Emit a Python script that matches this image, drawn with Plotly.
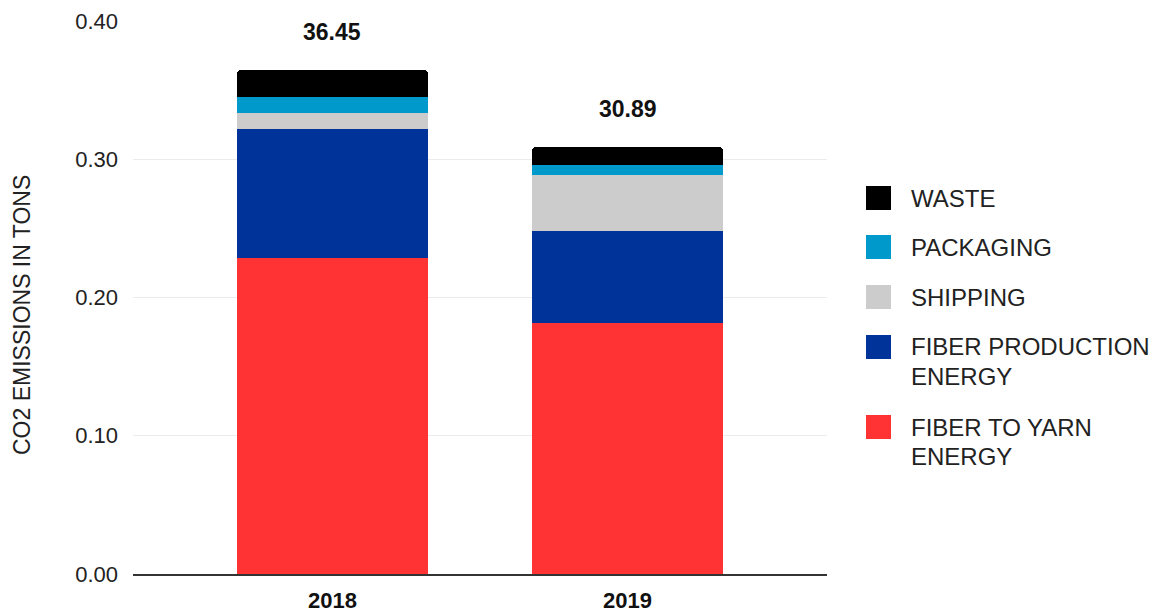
import plotly.graph_objects as go

# Stacked CO2 emissions per year (tons)
years = ["2018", "2019"]
fiber_to_yarn = [0.2284, 0.1814]
fiber_production = [0.0932, 0.0665]
shipping = [0.0116, 0.0404]
packaging = [0.0115, 0.0073]
waste = [0.0198, 0.0133]

series_names = ["FIBER TO YARN<br>ENERGY", "FIBER PRODUCTION<br>ENERGY", "SHIPPING", "PACKAGING", "WASTE"]
series_values = [fiber_to_yarn, fiber_production, shipping, packaging, waste]
series_colors = ["#ff3333", "#003399", "#cccccc", "#0099cc", "#000000"]

FONT = "Liberation Sans, Arial, sans-serif"
W, H = 1164, 614
ML, MR, MT, MB = 133, 337, 21, 40
PW, PH = W - ML - MR, H - MT - MB


def px_x(x):
    return (x - ML) / PW


def px_y(y):
    return (H - MB - y) / PH


fig = go.Figure()
for name, vals, color in zip(series_names, series_values, series_colors):
    fig.add_trace(go.Bar(
        x=[0, 1], y=vals, name=name, marker=dict(color=color, line=dict(width=0)),
        width=0.647, showlegend=False, hoverinfo="skip",
    ))

totals = [sum(v[i] for v in series_values) for i in range(len(years))]
annotations = []
for i, t in enumerate(totals):
    annotations.append(dict(
        x=i, y=t, xref="x", yref="y", text=f"<b>{t * 100:.2f}</b>", showarrow=False,
        yanchor="middle", yshift=38, font=dict(family=FONT, size=23, color="#111111"),
    ))

# Axis title
annotations.append(dict(
    x=px_x(22), y=px_y(315), xref="paper", yref="paper", text="CO2 EMISSIONS IN TONS",
    textangle=-90, showarrow=False, xanchor="center", yanchor="middle",
    font=dict(family=FONT, size=23, color="#222222"),
))

# Legend drawn by hand: top entry first
shapes = []
legend_tops = [186, 235, 285, 335, 415]
for (name, color), top in zip(list(zip(series_names, series_colors))[::-1], legend_tops):
    shapes.append(dict(
        type="rect", xref="paper", yref="paper",
        x0=px_x(866), x1=px_x(891), y0=px_y(top + 24), y1=px_y(top),
        fillcolor=color, line=dict(width=0), layer="above",
    ))
    for k, line in enumerate(name.split("<br>")):
        annotations.append(dict(
            x=px_x(909), y=px_y(top + 12 + 29.5 * k), xref="paper", yref="paper",
            text=line, showarrow=False, xanchor="left", yanchor="middle",
            font=dict(family=FONT, size=24, color="#222222"),
        ))

fig.update_layout(
    width=W, height=H, barmode="stack", barcornerradius=4,
    margin=dict(l=ML, r=MR, t=MT, b=MB),
    paper_bgcolor="white", plot_bgcolor="white",
    font=dict(family=FONT, color="#111111"),
    xaxis=dict(
        range=[-0.676, 1.676], tickvals=[0, 1], ticktext=[f"<b>{y}</b>" for y in years],
        tickfont=dict(size=22, color="#111111"), showgrid=False, zeroline=False,
        showline=True, linecolor="#333333", linewidth=2, ticks="", ticklabelstandoff=6,
        automargin=False,
    ),
    yaxis=dict(
        range=[0, 0.4], tickvals=[0, 0.1, 0.2, 0.3, 0.4], tickformat=".2f",
        tickfont=dict(size=22, color="#222222"), showgrid=True, gridcolor="#ebebeb",
        gridwidth=1, zeroline=False, showline=False, ticks="", ticklabelstandoff=14,
        automargin=False,
    ),
    shapes=shapes, annotations=annotations,
)

fig.write_html("out.html")
